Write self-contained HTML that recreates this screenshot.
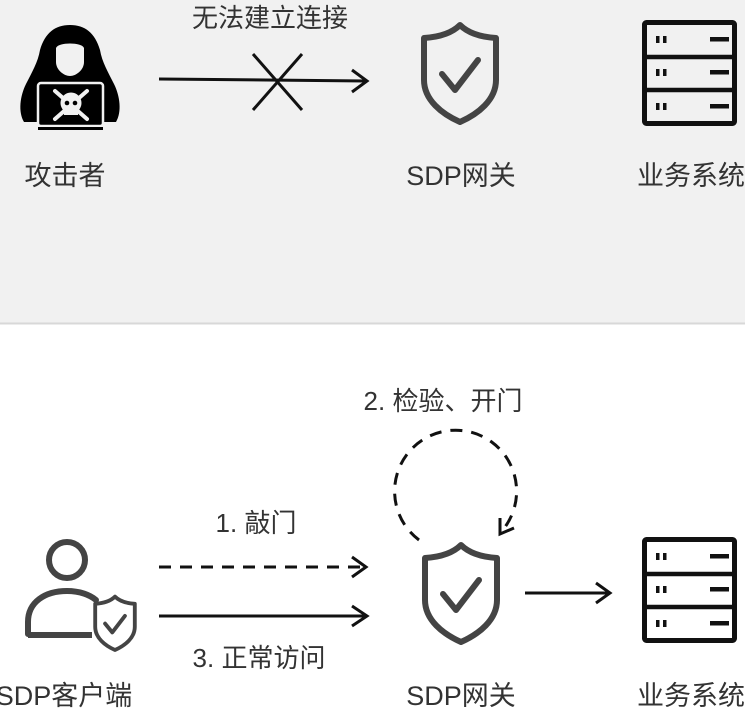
<!DOCTYPE html>
<html><head><meta charset="utf-8"><style>
html,body{margin:0;padding:0;background:#fff}
svg{display:block}
text{font-family:"Liberation Sans","Noto Sans CJK SC",sans-serif;fill:#333}
</style></head><body>
<svg width="745" height="711" viewBox="0 0 745 711" xmlns="http://www.w3.org/2000/svg">
<defs>
<g id="shield">
<path d="M40 3 C32 11 20 15 4 16 L4 58 C4 78 22 92 40 100 C58 92 76 78 76 58 L76 16 C60 15 48 11 40 3 Z" fill="none" stroke="#444" stroke-width="6" stroke-linejoin="round"/>
<path d="M22 52 L35 68 L58 38" fill="none" stroke="#444" stroke-width="6" stroke-linecap="round" stroke-linejoin="round"/>
</g>
<g id="server">
<rect x="2.5" y="2.5" width="90" height="101" rx="2" fill="none" stroke="#111" stroke-width="5"/>
<line x1="2" y1="37" x2="93" y2="37" stroke="#111" stroke-width="4.5"/>
<line x1="2" y1="70" x2="93" y2="70" stroke="#111" stroke-width="4.5"/>
<rect x="14" y="16" width="3.5" height="7" fill="#111"/><rect x="21" y="16" width="3.5" height="7" fill="#111"/>
<rect x="14" y="49" width="3.5" height="7" fill="#111"/><rect x="21" y="49" width="3.5" height="7" fill="#111"/>
<rect x="14" y="83" width="3.5" height="7" fill="#111"/><rect x="21" y="83" width="3.5" height="7" fill="#111"/>
<rect x="68" y="17" width="19" height="4.5" fill="#111"/>
<rect x="68" y="50" width="19" height="4.5" fill="#111"/>
<rect x="68" y="84" width="19" height="4.5" fill="#111"/>
</g>
</defs>
<rect x="0" y="0" width="745" height="323" fill="#f1f1f1"/>
<line x1="0" y1="323.5" x2="745" y2="323.5" stroke="#d8d8d8" stroke-width="2"/>

<!-- hacker -->
<path d="M70 25 C55 25 45 33 40 50 C38 62 32 72 26 84 C20 96 18 112 24 122 L116 122 C122 112 120 96 114 84 C108 72 102 62 100 50 C95 33 85 25 70 25 Z" fill="#000"/>
<path d="M56 48 C58 42 82 42 84 48 L84 62 C84 70 76 76 70 76 C64 76 56 70 56 62 Z" fill="#f1f1f1"/>
<rect x="38" y="83" width="65" height="43" rx="3" fill="#000" stroke="#f1f1f1" stroke-width="2.5"/>
<rect x="38" y="127" width="65" height="3" fill="#000"/>
<g stroke="#f1f1f1" stroke-width="4" stroke-linecap="round">
<line x1="55" y1="91" x2="87" y2="119"/><line x1="87" y1="91" x2="55" y2="119"/>
</g>
<circle cx="71" cy="103" r="10.5" fill="#f1f1f1"/>
<rect x="64" y="107" width="14" height="8" fill="#f1f1f1"/>
<circle cx="67" cy="103" r="2.3" fill="#000"/><circle cx="75" cy="103" r="2.3" fill="#000"/>

<!-- top arrow -->
<line x1="159" y1="79" x2="366" y2="81" stroke="#111" stroke-width="3"/>
<path d="M352 70 L367 81 L352 92" fill="none" stroke="#111" stroke-width="3"/>
<line x1="253" y1="54" x2="302" y2="110" stroke="#111" stroke-width="3"/>
<line x1="302" y1="54" x2="253" y2="110" stroke="#111" stroke-width="3"/>
<text x="270" y="27" font-size="26" text-anchor="middle">无法建立连接</text>

<use href="#shield" x="420" y="22"/>
<use href="#server" x="642" y="20"/>

<text x="65" y="185" font-size="27" text-anchor="middle">攻击者</text>
<text x="461" y="185" font-size="27" text-anchor="middle">SDP网关</text>
<text x="691" y="185" font-size="27" text-anchor="middle">业务系统</text>

<!-- bottom -->
<text x="443" y="410" font-size="26" text-anchor="middle">2. 检验、开门</text>
<path d="M419 540 A61 61 0 1 1 505 527" fill="none" stroke="#111" stroke-width="3" stroke-dasharray="12,9"/>
<path d="M500 518 L500 534 L514 528" fill="none" stroke="#111" stroke-width="3"/>

<text x="256" y="532" font-size="26" text-anchor="middle">1. 敲门</text>
<line x1="159" y1="567" x2="364" y2="567" stroke="#111" stroke-width="3" stroke-dasharray="12,9"/>
<path d="M352 557 L366 567 L352 577" fill="none" stroke="#111" stroke-width="3"/>
<line x1="159" y1="616" x2="366" y2="616" stroke="#111" stroke-width="3"/>
<path d="M352 606 L367 616 L352 626" fill="none" stroke="#111" stroke-width="3"/>
<text x="259" y="667" font-size="26" text-anchor="middle">3. 正常访问</text>

<use href="#shield" x="421" y="542"/>
<line x1="525" y1="593" x2="609" y2="593" stroke="#111" stroke-width="3"/>
<path d="M596 583 L610 593 L596 603" fill="none" stroke="#111" stroke-width="3"/>
<use href="#server" x="642" y="537"/>

<!-- user -->
<circle cx="67" cy="560" r="18" fill="none" stroke="#444" stroke-width="6"/>
<path d="M28 634 L28 622 C28 602 45 591 67 591 C80 591 90 595 96 600" fill="none" stroke="#444" stroke-width="6" stroke-linecap="round"/>
<line x1="28" y1="635" x2="92" y2="635" stroke="#444" stroke-width="6"/>
<g transform="translate(93,595) scale(0.55)">
<path d="M40 3 C32 11 20 15 4 16 L4 58 C4 78 22 92 40 100 C58 92 76 78 76 58 L76 16 C60 15 48 11 40 3 Z" fill="#fff" stroke="#444" stroke-width="7" stroke-linejoin="round"/>
<path d="M22 52 L35 68 L58 38" fill="none" stroke="#444" stroke-width="7" stroke-linecap="round" stroke-linejoin="round"/>
</g>

<text x="64" y="705" font-size="27" text-anchor="middle">SDP客户端</text>
<text x="461" y="705" font-size="27" text-anchor="middle">SDP网关</text>
<text x="691" y="705" font-size="27" text-anchor="middle">业务系统</text>
</svg>
</body></html>
